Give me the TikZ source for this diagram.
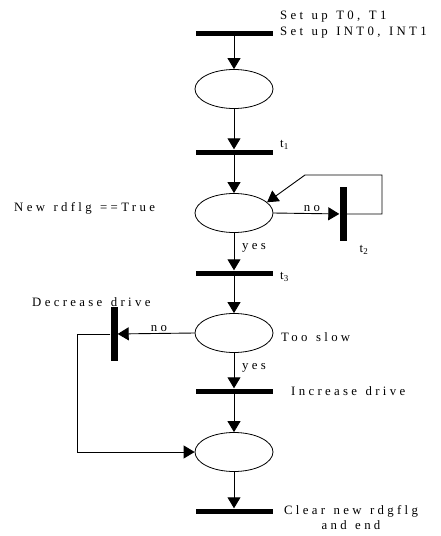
\documentclass[tikz,border=0pt]{standalone}
\usepackage{fontspec}
\setmainfont[LetterSpace=26,WordSpace=1.3]{Liberation Serif}
\usetikzlibrary{arrows.meta,shapes.geometric}
\tikzstyle{place-node}=[draw,ellipse,line width=0.8pt,minimum width=78pt,minimum height=39pt,inner sep=0pt]
\tikzstyle{bar-node}=[fill=black,rectangle,minimum width=77pt,minimum height=5pt,inner sep=0pt]
\tikzstyle{vbar-node}=[fill=black,rectangle,minimum width=7pt,minimum height=54pt,inner sep=0pt]
\tikzstyle{label-node}=[font=\fontsize{12.8}{15}\selectfont,inner sep=0pt]
\tikzstyle{arc}=[line width=0.9pt,-{Triangle[length=11pt,width=13pt]}]

\begin{document}
\begin{tikzpicture}[x=1pt,y=-1pt]
        \useasboundingbox (0,0) rectangle (440,536);
        \begin{scope}
            % places
            \node[place-node] at (234,89) (p1) {};
            \node[place-node] at (234,213) (p2) {};
            \node[place-node] at (234,333) (p3) {};
            \node[place-node] at (234,452) (p4) {};
            % transitions
            \node[bar-node] at (234,33) (b0) {};
            \node[bar-node] at (234,152) (b1) {};
            \node[vbar-node] at (343,214) (b2) {};
            \node[bar-node] at (234,273) (b3) {};
            \node[vbar-node] at (114,334) (bd) {};
            \node[bar-node] at (234,391) (b4) {};
            \node[bar-node] at (234,511) (b5) {};
            \coordinate (c1) at (382,175);
            \coordinate (c2) at (305,175);
            \coordinate (c3) at (77,452);

            % labels
            \node[label-node,anchor=west] at (280,17) (l0a) {Set up T0, T1};
            \node[label-node,anchor=west] at (280,33) (l0b) {Set up INT0, INT1};
            \node[label-node,anchor=west] at (280,145) (l1) {t\textsubscript{1}};
            \node[label-node,anchor=west] at (14,208) (lnew) {New rdflg ==True};
            \node[label-node] at (312,209) (lno1) {no};
            \node[label-node] at (364,250) (l2) {t\textsubscript{2}};
            \node[label-node,anchor=west] at (242,248) (lyes1) {yes};
            \node[label-node,anchor=west] at (280,277) (l3) {t\textsubscript{3}};
            \node[label-node,anchor=west] at (32,302) (ldec) {Decrease drive};
            \node[label-node] at (159,329) (lno2) {no};
            \node[label-node,anchor=west] at (281,337) (lslow) {Too slow};
            \node[label-node,anchor=west] at (242,368) (lyes2) {yes};
            \node[label-node,anchor=west] at (291,391) (linc) {Increase drive};
            \node[label-node,align=center] at (351,518) (lend) {Clear new rdgflg\\and end};

            % arcs
            \draw[arc] (b0) -- (p1);
            \draw[arc] (p1) -- (b1);
            \draw[arc] (b1) -- (p2);
            \draw[arc] (p2) -- (b3);
            \draw[arc] (p2.east) -- (b2);
            \draw[arc] (b2.east) -| (c1) -- (c2) -- (p2.18);
            \draw[arc] (b3) -- (p3);
            \draw[arc] (p3.west) -- (bd);
            \draw[arc] (bd.west) -| (c3) -- (p4.west);
            \draw[arc] (p3) -- (b4);
            \draw[arc] (b4) -- (p4);
            \draw[arc] (p4) -- (b5);
        \end{scope}
    \end{tikzpicture}
\end{document}
